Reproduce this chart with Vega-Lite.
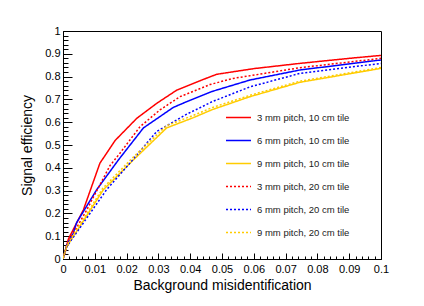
{
"$schema": "https://vega.github.io/schema/vega-lite/v6.json",
"width": 318,
"height": 228,
"autosize": "none",
"padding": {"left": 63, "top": 31, "right": 43, "bottom": 47},
"background": "white",
"config": {"view": {"stroke": "#000", "strokeWidth": 1}, "font": "Liberation Sans"},
"datasets": {
"curves": [
{"series": "3 mm pitch, 10 cm tile", "x": 0, "y": 0},
{"series": "3 mm pitch, 10 cm tile", "x": 0.0017, "y": 0.088},
{"series": "3 mm pitch, 10 cm tile", "x": 0.0064, "y": 0.215},
{"series": "3 mm pitch, 10 cm tile", "x": 0.0116, "y": 0.42},
{"series": "3 mm pitch, 10 cm tile", "x": 0.0164, "y": 0.52},
{"series": "3 mm pitch, 10 cm tile", "x": 0.0232, "y": 0.617},
{"series": "3 mm pitch, 10 cm tile", "x": 0.0295, "y": 0.683},
{"series": "3 mm pitch, 10 cm tile", "x": 0.0357, "y": 0.74},
{"series": "3 mm pitch, 10 cm tile", "x": 0.0431, "y": 0.782},
{"series": "3 mm pitch, 10 cm tile", "x": 0.0483, "y": 0.81},
{"series": "3 mm pitch, 10 cm tile", "x": 0.06, "y": 0.835},
{"series": "3 mm pitch, 10 cm tile", "x": 0.0745, "y": 0.858},
{"series": "3 mm pitch, 10 cm tile", "x": 0.09, "y": 0.88},
{"series": "3 mm pitch, 10 cm tile", "x": 0.1, "y": 0.893},
{"series": "6 mm pitch, 10 cm tile", "x": 0, "y": 0},
{"series": "6 mm pitch, 10 cm tile", "x": 0.0012, "y": 0.06},
{"series": "6 mm pitch, 10 cm tile", "x": 0.0032, "y": 0.113},
{"series": "6 mm pitch, 10 cm tile", "x": 0.0043, "y": 0.16},
{"series": "6 mm pitch, 10 cm tile", "x": 0.0106, "y": 0.304},
{"series": "6 mm pitch, 10 cm tile", "x": 0.0174, "y": 0.434},
{"series": "6 mm pitch, 10 cm tile", "x": 0.0253, "y": 0.575},
{"series": "6 mm pitch, 10 cm tile", "x": 0.0347, "y": 0.665},
{"series": "6 mm pitch, 10 cm tile", "x": 0.0389, "y": 0.69},
{"series": "6 mm pitch, 10 cm tile", "x": 0.0469, "y": 0.735},
{"series": "6 mm pitch, 10 cm tile", "x": 0.0588, "y": 0.785},
{"series": "6 mm pitch, 10 cm tile", "x": 0.0745, "y": 0.829},
{"series": "6 mm pitch, 10 cm tile", "x": 0.1, "y": 0.873},
{"series": "9 mm pitch, 10 cm tile", "x": 0, "y": 0},
{"series": "9 mm pitch, 10 cm tile", "x": 0.0012, "y": 0.055},
{"series": "9 mm pitch, 10 cm tile", "x": 0.0053, "y": 0.143},
{"series": "9 mm pitch, 10 cm tile", "x": 0.0127, "y": 0.304},
{"series": "9 mm pitch, 10 cm tile", "x": 0.0221, "y": 0.434},
{"series": "9 mm pitch, 10 cm tile", "x": 0.0326, "y": 0.575},
{"series": "9 mm pitch, 10 cm tile", "x": 0.041, "y": 0.62},
{"series": "9 mm pitch, 10 cm tile", "x": 0.0469, "y": 0.655},
{"series": "9 mm pitch, 10 cm tile", "x": 0.0588, "y": 0.712},
{"series": "9 mm pitch, 10 cm tile", "x": 0.0745, "y": 0.775},
{"series": "9 mm pitch, 10 cm tile", "x": 0.1, "y": 0.836},
{"series": "3 mm pitch, 20 cm tile", "x": 0, "y": 0},
{"series": "3 mm pitch, 20 cm tile", "x": 0.0015, "y": 0.07},
{"series": "3 mm pitch, 20 cm tile", "x": 0.0075, "y": 0.216},
{"series": "3 mm pitch, 20 cm tile", "x": 0.0095, "y": 0.27},
{"series": "3 mm pitch, 20 cm tile", "x": 0.0148, "y": 0.41},
{"series": "3 mm pitch, 20 cm tile", "x": 0.0179, "y": 0.464},
{"series": "3 mm pitch, 20 cm tile", "x": 0.0242, "y": 0.58},
{"series": "3 mm pitch, 20 cm tile", "x": 0.0305, "y": 0.654},
{"series": "3 mm pitch, 20 cm tile", "x": 0.0368, "y": 0.712},
{"series": "3 mm pitch, 20 cm tile", "x": 0.0462, "y": 0.765},
{"series": "3 mm pitch, 20 cm tile", "x": 0.0535, "y": 0.792},
{"series": "3 mm pitch, 20 cm tile", "x": 0.0745, "y": 0.839},
{"series": "3 mm pitch, 20 cm tile", "x": 0.1, "y": 0.88},
{"series": "6 mm pitch, 20 cm tile", "x": 0, "y": 0},
{"series": "6 mm pitch, 20 cm tile", "x": 0.0012, "y": 0.055},
{"series": "6 mm pitch, 20 cm tile", "x": 0.0064, "y": 0.158},
{"series": "6 mm pitch, 20 cm tile", "x": 0.0137, "y": 0.304},
{"series": "6 mm pitch, 20 cm tile", "x": 0.0205, "y": 0.412},
{"series": "6 mm pitch, 20 cm tile", "x": 0.0295, "y": 0.56},
{"series": "6 mm pitch, 20 cm tile", "x": 0.0389, "y": 0.635},
{"series": "6 mm pitch, 20 cm tile", "x": 0.0469, "y": 0.69},
{"series": "6 mm pitch, 20 cm tile", "x": 0.0588, "y": 0.755},
{"series": "6 mm pitch, 20 cm tile", "x": 0.0745, "y": 0.814},
{"series": "6 mm pitch, 20 cm tile", "x": 0.1, "y": 0.858},
{"series": "9 mm pitch, 20 cm tile", "x": 0, "y": 0},
{"series": "9 mm pitch, 20 cm tile", "x": 0.0012, "y": 0.06},
{"series": "9 mm pitch, 20 cm tile", "x": 0.0053, "y": 0.15},
{"series": "9 mm pitch, 20 cm tile", "x": 0.0125, "y": 0.31},
{"series": "9 mm pitch, 20 cm tile", "x": 0.0216, "y": 0.44},
{"series": "9 mm pitch, 20 cm tile", "x": 0.0326, "y": 0.585},
{"series": "9 mm pitch, 20 cm tile", "x": 0.041, "y": 0.63},
{"series": "9 mm pitch, 20 cm tile", "x": 0.0469, "y": 0.664},
{"series": "9 mm pitch, 20 cm tile", "x": 0.0588, "y": 0.718},
{"series": "9 mm pitch, 20 cm tile", "x": 0.0745, "y": 0.78},
{"series": "9 mm pitch, 20 cm tile", "x": 0.1, "y": 0.84}
]
},
"data": {"name": "curves"},
"mark": {"type": "line", "strokeWidth": 1.5, "clip": true},
"encoding": {
"x": {
"field": "x", "type": "quantitative",
"scale": {"domain": [0, 0.1], "nice": false, "zero": false},
"axis": {
"title": "Background misidentification",
"titleFontSize": 14, "titleFontWeight": "normal", "titleColor": "#000", "titleFont": "Liberation Sans", "titlePadding": 1,
"values": [0,0.002,0.004,0.006,0.008,0.01,0.012,0.014,0.016,0.018,0.02,0.022,0.024,0.026,0.028,0.03,0.032,0.034,0.036,0.038,0.04,0.042,0.044,0.046,0.048,0.05,0.052,0.054,0.056,0.058,0.06,0.062,0.064,0.066,0.068,0.07,0.072,0.074,0.076,0.078,0.08,0.082,0.084,0.086,0.088,0.09,0.092,0.094,0.096,0.098,0.1],
"labelExpr": "abs(datum.value*100 - round(datum.value*100)) < 0.001 ? format(datum.value, '.2~f') : ''",
"tickSize": {"condition": {"test": "abs(datum.value*100 - round(datum.value*100)) < 0.001", "value": -6}, "value": -3},
"tickColor": "#000", "domainColor": "#000", "grid": false,
"labelFontSize": 11, "labelColor": "#000", "labelFont": "Liberation Sans",
"labelOverlap": false, "labelFlush": false, "labelBound": false, "labelPadding": 10
}
},
"y": {
"field": "y", "type": "quantitative",
"scale": {"domain": [0, 1], "nice": false},
"axis": {
"title": "Signal efficiency",
"titleFontSize": 14, "titleFontWeight": "normal", "titleColor": "#000", "titleFont": "Liberation Sans", "titlePadding": 10,
"values": [0,0.02,0.04,0.06,0.08,0.1,0.12,0.14,0.16,0.18,0.2,0.22,0.24,0.26,0.28,0.3,0.32,0.34,0.36,0.38,0.4,0.42,0.44,0.46,0.48,0.5,0.52,0.54,0.56,0.58,0.6,0.62,0.64,0.66,0.68,0.7,0.72,0.74,0.76,0.78,0.8,0.82,0.84,0.86,0.88,0.9,0.92,0.94,0.96,0.98,1],
"labelExpr": "abs(datum.value*10 - round(datum.value*10)) < 0.001 ? format(datum.value, '.1~f') : ''",
"tickSize": {"condition": {"test": "abs(datum.value*10 - round(datum.value*10)) < 0.001", "value": -9}, "value": -5},
"tickColor": "#000", "domainColor": "#000", "grid": false,
"labelFontSize": 11, "labelColor": "#000", "labelFont": "Liberation Sans",
"labelOverlap": false, "labelFlush": false, "labelBound": false, "labelPadding": 12
}
},
"color": {
"field": "series", "type": "nominal",
"scale": {"domain": ["3 mm pitch, 10 cm tile","6 mm pitch, 10 cm tile","9 mm pitch, 10 cm tile","3 mm pitch, 20 cm tile","6 mm pitch, 20 cm tile","9 mm pitch, 20 cm tile"],
"range": ["#ff0000","#0000ff","#ffcc00","#ff0000","#0000ff","#ffcc00"]},
"legend": {"orient": "none", "legendX": 162, "legendY": 73, "title": null, "symbolType": "stroke", "symbolSize": 625, "symbolStrokeWidth": 1.5, "labelFontSize": 9.5, "labelFont": "Liberation Sans", "labelColor": "#222", "labelOffset": 5, "rowPadding": 5}
},
"strokeDash": {
"field": "series", "type": "nominal",
"scale": {"domain": ["3 mm pitch, 10 cm tile","6 mm pitch, 10 cm tile","9 mm pitch, 10 cm tile","3 mm pitch, 20 cm tile","6 mm pitch, 20 cm tile","9 mm pitch, 20 cm tile"],
"range": [[1,0],[1,0],[1,0],[2,2],[2,2],[2,2]]},
"legend": {"orient": "none", "legendX": 162, "legendY": 73, "title": null, "symbolType": "stroke", "symbolSize": 625, "symbolStrokeWidth": 1.5, "labelFontSize": 9.5, "labelFont": "Liberation Sans", "labelColor": "#222", "labelOffset": 5, "rowPadding": 5}
}
}
}
